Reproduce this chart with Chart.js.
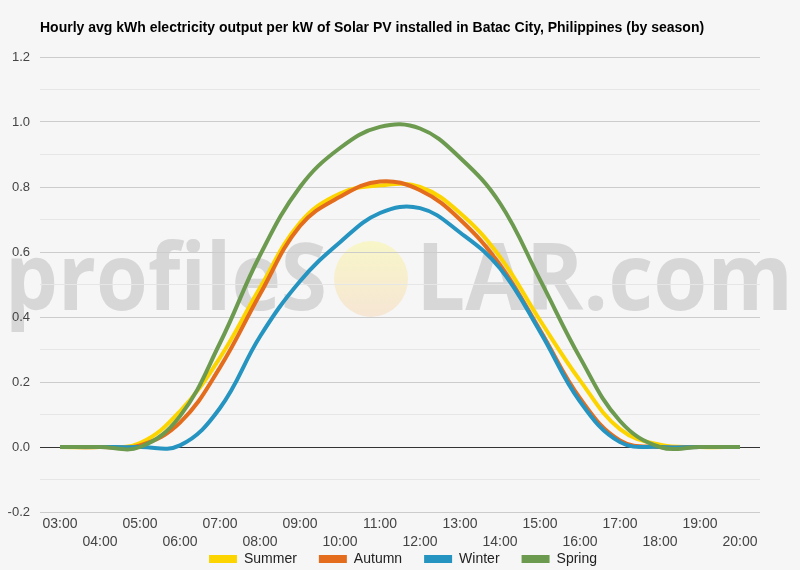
<!DOCTYPE html>
<html>
<head>
<meta charset="utf-8">
<script src="https://cdn.jsdelivr.net/npm/chart.js@4.4.1/dist/chart.umd.min.js"></script>
<style>
  html, body { margin: 0; padding: 0; background: #f6f6f6; }
  #wrap { width: 800px; height: 570px; position: relative; }
</style>
</head>
<body>
<div id="wrap"><canvas id="solarChart"></canvas></div>
<script>
// Hours of the day (category axis)
const hours = ['03:00', '04:00', '05:00', '06:00', '07:00', '08:00', '09:00', '10:00', '11:00',
               '12:00', '13:00', '14:00', '15:00', '16:00', '17:00', '18:00', '19:00', '20:00'];

// Hourly avg kWh per kW installed
const summer = [0, 0, 0.012, 0.11, 0.275, 0.49, 0.69, 0.78, 0.805, 0.80, 0.72, 0.585, 0.39, 0.205, 0.055, 0.007, 0, 0];
const autumn = [0, 0, 0.005, 0.075, 0.245, 0.47, 0.68, 0.77, 0.817, 0.79, 0.70, 0.56, 0.36, 0.15, 0.02, 0, 0, 0];
const winter = [0, 0, 0, 0.005, 0.12, 0.34, 0.51, 0.63, 0.72, 0.735, 0.66, 0.55, 0.355, 0.14, 0.015, 0, 0, 0];
const spring = [0, 0, 0, 0.095, 0.32, 0.59, 0.80, 0.92, 0.985, 0.98, 0.89, 0.75, 0.515, 0.275, 0.08, 0, 0, 0];

const seasonNames = ['Summer', 'Autumn', 'Winter', 'Spring'];
const seasonColors = ['#FCD500', '#E46C1D', '#2594C0', '#6C9A4F'];

const titleText = 'Hourly avg kWh electricity output per kW of Solar PV installed in Batac City, Philippines (by season)';

Chart.defaults.font.family = 'Arial, "Liberation Sans", sans-serif';
Chart.defaults.font.size = 13;
Chart.defaults.color = '#444';

/**
 * Background, watermark and left-aligned title
 */
const backdropPlugin = {
    id: 'backdrop',
    afterLayout(chart) {
        // pull the legend up under the two rows of hour labels and centre it on the page
        const lg = chart.legend;
        const shiftY = 530 - lg.top;
        lg.top += shiftY;
        lg.bottom += shiftY;
        lg.left += 23;
        lg.right += 23;
    },
    beforeDraw(chart) {
        const ctx = chart.ctx;
        ctx.save();
        ctx.fillStyle = '#f6f6f6';
        ctx.fillRect(0, 0, chart.width, chart.height);

        // watermark text, each half stretched to its span
        ctx.font = 'bold 94px "Open Sans", sans-serif';
        ctx.fillStyle = '#d7d7d7';
        ctx.textBaseline = 'alphabetic';
        const drawSpan = (txt, x0, x1) => {
            const w = ctx.measureText(txt).width;
            ctx.save();
            ctx.translate(x0, 310);
            ctx.scale((x1 - x0) / w, 1);
            ctx.fillText(txt, 0, 0);
            ctx.restore();
        };
        drawSpan('profileS', 5, 327);
        drawSpan('LAR.com', 416, 793);

        // sun in place of the O
        const grad = ctx.createLinearGradient(0, 241, 0, 316);
        grad.addColorStop(0, '#f8f6c8');
        grad.addColorStop(1, '#f6e6d4');
        ctx.fillStyle = grad;
        ctx.beginPath();
        ctx.ellipse(371, 279, 37, 38, 0, 0, Math.PI * 2);
        ctx.fill();
        ctx.restore();
    },
    afterDraw(chart) {
        const ctx = chart.ctx;
        ctx.save();
        ctx.font = 'bold 14px Arial, "Liberation Sans", sans-serif';
        ctx.fillStyle = '#000';
        ctx.textBaseline = 'middle';
        ctx.fillText(titleText, chart.chartArea.left, 28);
        ctx.restore();
    }
};

const datasets = [summer, autumn, winter, spring].map((values, i) => ({
    label: seasonNames[i],
    data: values,
    borderColor: seasonColors[i],
    backgroundColor: seasonColors[i],
    borderWidth: 4,
    pointRadius: 0,
    pointHoverRadius: 0,
    tension: 0.4,
    order: 4 - i
}));

new Chart(document.getElementById('solarChart'), {
    type: 'line',
    data: { labels: hours, datasets: datasets },
    plugins: [backdropPlugin],
    options: {
        responsive: true,
        maintainAspectRatio: false,
        animation: false,
        layout: { padding: { top: 57, right: 40, left: 0, bottom: -28 } },
        plugins: {
            title: { display: false },
            tooltip: { enabled: false },
            legend: {
                position: 'bottom',
                labels: {
                    boxWidth: 28,
                    boxHeight: 8,
                    padding: 22,
                    color: '#222',
                    font: { size: 14 },
                    sort: (a, b) => a.datasetIndex - b.datasetIndex,
                    generateLabels: chart =>
                        Chart.defaults.plugins.legend.labels.generateLabels(chart)
                            .map(l => ({ ...l, lineWidth: 0 }))
                }
            }
        },
        scales: {
            x: {
                offset: true,
                grid: { display: false, drawTicks: false, tickLength: 0 },
                border: { display: false },
                ticks: {
                    autoSkip: false,
                    maxRotation: 0,
                    padding: 3,
                    color: '#444',
                    font: { size: 14, lineHeight: 1.3 },
                    callback: function(value, index) {
                        const lbl = hours[index];
                        return index % 2 === 0 ? lbl : ['', lbl];
                    }
                },
                afterFit: scale => { scale.height = 40; }
            },
            y: {
                min: -0.2,
                max: 1.2,
                border: { display: false },
                grid: {
                    drawTicks: false,
                    lineWidth: 1,
                    color: ctx => {
                        const t = Math.round(ctx.tick.value * 10);
                        if (t === 0) return '#333';
                        return t % 2 === 0 ? '#cccccc' : '#e6e6e6';
                    }
                },
                ticks: {
                    stepSize: 0.1,
                    padding: 10,
                    color: '#444',
                    callback: v => {
                        const t = Math.round(v * 10);
                        return t % 2 === 0 ? (t / 10).toFixed(1) : '';
                    }
                },
                afterFit: scale => { scale.width = 40; }
            }
        }
    }
});
</script>
</body>
</html>
